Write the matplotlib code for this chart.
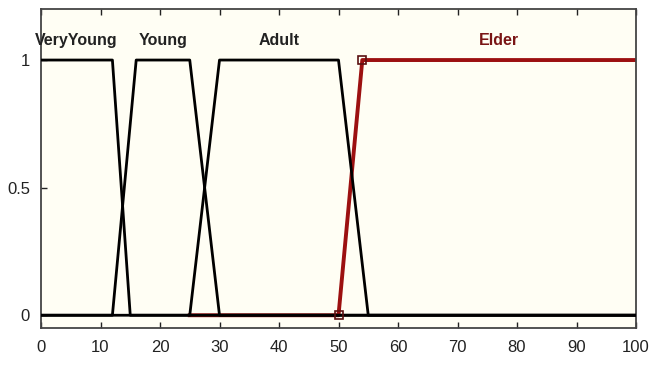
import numpy as np
import matplotlib.pyplot as plt

plt.rcParams['font.family'] = ['Liberation Sans', 'DejaVu Sans']

# membership functions (trapezoids) on age 0..100
mf_names = ['VeryYoung', 'Young', 'Adult', 'Elder']
mf_params = [[0, 0, 12, 15],
             [12, 16, 25, 30],
             [25, 30, 50, 55],
             [50, 54, 100, 100]]
label_x = [6, 20.5, 40, 77]
x_ticks = [0, 10, 20, 30, 40, 50, 60, 70, 80, 90, 100]
y_ticks = [0, 0.5, 1]
y_ticklabels = ['0', '0.5', '1']


def trapmf(x, p):
    a, b, c, d = p
    up = np.ones_like(x) if b == a else (x - a) / (b - a)
    down = np.ones_like(x) if d == c else (d - x) / (d - c)
    y = np.clip(np.minimum(up, down), 0, 1)
    if b == a:
        y[x < a] = 0
    if d == c:
        y[x > d] = 0
    return y


x = np.linspace(0, 100, 2001)

fig = plt.figure(figsize=(6.51, 3.67), dpi=100)
ax = fig.add_axes([41 / 651, 1 - 328 / 367, (636 - 41) / 651, (328 - 9) / 367])
ax.set_facecolor('#fffef4')

# selected MF (Elder) in red; its left part is hidden under the others
elder = trapmf(x, mf_params[3])
elder_vis = np.where(x >= 25, elder, np.nan)
ax.plot(x, elder_vis, color='#9c1010', lw=2.8, zorder=2)
a, b = mf_params[3][:2]
ax.plot([a, b], [0, 1], ls='none', marker='s', ms=6,
        mfc='none', mec='#5a1010', mew=1.2, zorder=4)

for p in mf_params[:3]:
    ax.plot(x, trapmf(x, p), color='black', lw=2.0, zorder=3)

for name, lx, c in zip(mf_names, label_x, ['#222222'] * 3 + ['#7a1515']):
    ax.text(lx, 1.075, name, ha='center', va='center', fontsize=11.5,
            color=c, fontweight='bold')

ax.set_xlim(0, 100)
ax.set_ylim(-0.05, 1.2)
ax.set_xticks(x_ticks)
ax.set_yticks(y_ticks)
ax.set_yticklabels(y_ticklabels)
ax.tick_params(direction='in', length=4, width=1, labelsize=12,
               top=True, colors='#222222')
ax.tick_params(axis='x', pad=9)
ax.tick_params(axis='y', pad=8)
for s in ax.spines.values():
    s.set_color('#444444')
    s.set_linewidth(1.3)

fig.savefig('out.png', dpi=100)
